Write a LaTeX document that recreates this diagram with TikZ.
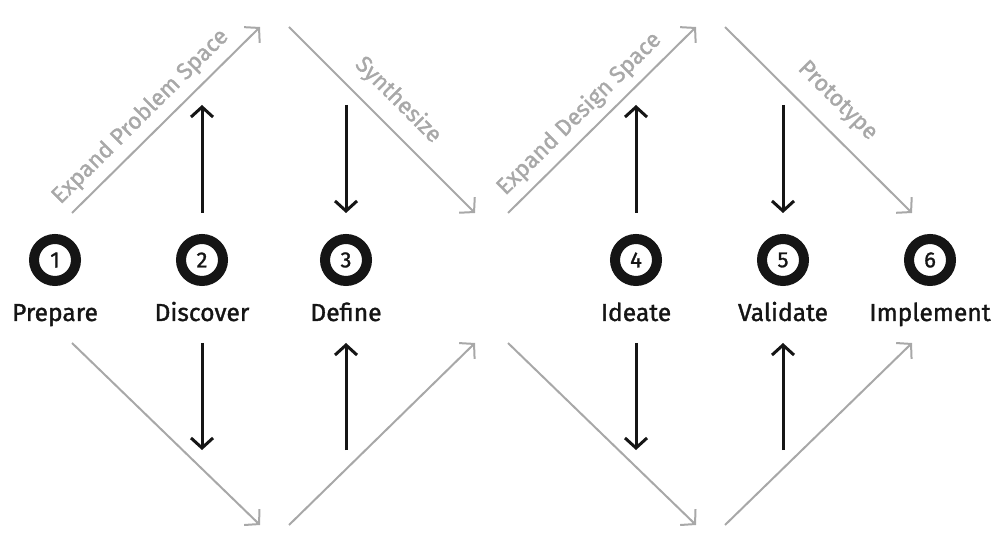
\documentclass[tikz,border=0pt]{standalone}
\usepackage{fontspec}
\setmainfont{Fira Sans}[FakeBold=1.3]
\newfontfamily\medfont{Fira Sans}[FakeBold=1.3]
\usetikzlibrary{arrows.meta}
\definecolor{linegray}{HTML}{A8A8A8}
\definecolor{inkblack}{HTML}{151515}
\tikzset{
  grayarrow/.style={draw=linegray, line width=1pt, -{Straight Barb[length=5pt,width=11pt,line width=1pt]}},
  blackarrow/.style={draw=inkblack, line width=1.5pt, -{Straight Barb[length=5pt,width=11pt,line width=1.5pt]}},
  stepcircle/.style={circle, draw=inkblack, line width=5pt, minimum size=21pt, inner sep=0pt, font=\medfont\fontsize{11}{13}\selectfont, text=inkblack},
  steplabel/.style={anchor=base, inner sep=0pt, font=\medfont\fontsize{12.3}{14}\selectfont, text=inkblack},
  phaselabel/.style={sloped, inner sep=0pt, font=\medfont\fontsize{11.5}{13}\selectfont, text=linegray}
}
\begin{document}
\begin{tikzpicture}[x=0.5pt,y=-0.5pt]
\useasboundingbox (0,0) rectangle (994,533);
% step circles
\node[stepcircle] (c1) at (55,260) {1};
\node[stepcircle] (c2) at (202,260) {2};
\node[stepcircle] (c3) at (346,260) {3};
\node[stepcircle] (c4) at (636,260) {4};
\node[stepcircle] (c5) at (783,260) {5};
\node[stepcircle] (c6) at (930,260) {6};
% labels
\node[steplabel] (l1) at (55,321) {Prepare};
\node[steplabel] (l2) at (202,321) {Discover};
\node[steplabel] (l3) at (346,321) {Define};
\node[steplabel] (l4) at (636,321) {Ideate};
\node[steplabel] (l5) at (783,321) {Validate};
\node[steplabel] (l6) at (930,321) {Implement};
% gray diagonal endpoints
\coordinate (a1) at (72,213);  \coordinate (a2) at (260,27);
\coordinate (b1) at (289,27);  \coordinate (b2) at (475,213);
\coordinate (d1) at (508,213); \coordinate (d2) at (696,27);
\coordinate (p1) at (725,27);  \coordinate (p2) at (912,213);
\coordinate (e1) at (72,343);  \coordinate (e2) at (260,525);
\coordinate (f1) at (289,525); \coordinate (f2) at (475,343);
\coordinate (g1) at (508,343); \coordinate (g2) at (696,525);
\coordinate (h1) at (725,525); \coordinate (h2) at (912,343);
\draw[grayarrow] (a1) -- node[phaselabel, above=4pt, pos=0.44] {Expand Problem Space} (a2);
\draw[grayarrow] (b1) -- node[phaselabel, above=6.5pt, pos=0.49] {Synthesize} (b2);
\draw[grayarrow] (d1) -- node[phaselabel, above=4pt, pos=0.455] {Expand Design Space} (d2);
\draw[grayarrow] (p1) -- node[phaselabel, above=7.5pt, pos=0.5] {Prototype} (p2);
\draw[grayarrow] (e1) -- (e2);
\draw[grayarrow] (f1) -- (f2);
\draw[grayarrow] (g1) -- (g2);
\draw[grayarrow] (h1) -- (h2);
% black vertical arrows
\coordinate (v2t) at (202,105); \coordinate (v2a) at (202,213); \coordinate (v2b) at (202,343); \coordinate (v2d) at (202,450);
\coordinate (v3t) at (346,105); \coordinate (v3a) at (346,213); \coordinate (v3b) at (346,343); \coordinate (v3d) at (346,450);
\coordinate (v4t) at (636,105); \coordinate (v4a) at (636,213); \coordinate (v4b) at (636,343); \coordinate (v4d) at (636,450);
\coordinate (v5t) at (783,105); \coordinate (v5a) at (783,213); \coordinate (v5b) at (783,343); \coordinate (v5d) at (783,450);
\draw[blackarrow] (v2a) -- (v2t);
\draw[blackarrow] (v2b) -- (v2d);
\draw[blackarrow] (v3t) -- (v3a);
\draw[blackarrow] (v3d) -- (v3b);
\draw[blackarrow] (v4a) -- (v4t);
\draw[blackarrow] (v4b) -- (v4d);
\draw[blackarrow] (v5t) -- (v5a);
\draw[blackarrow] (v5d) -- (v5b);
\end{tikzpicture}
\end{document}
